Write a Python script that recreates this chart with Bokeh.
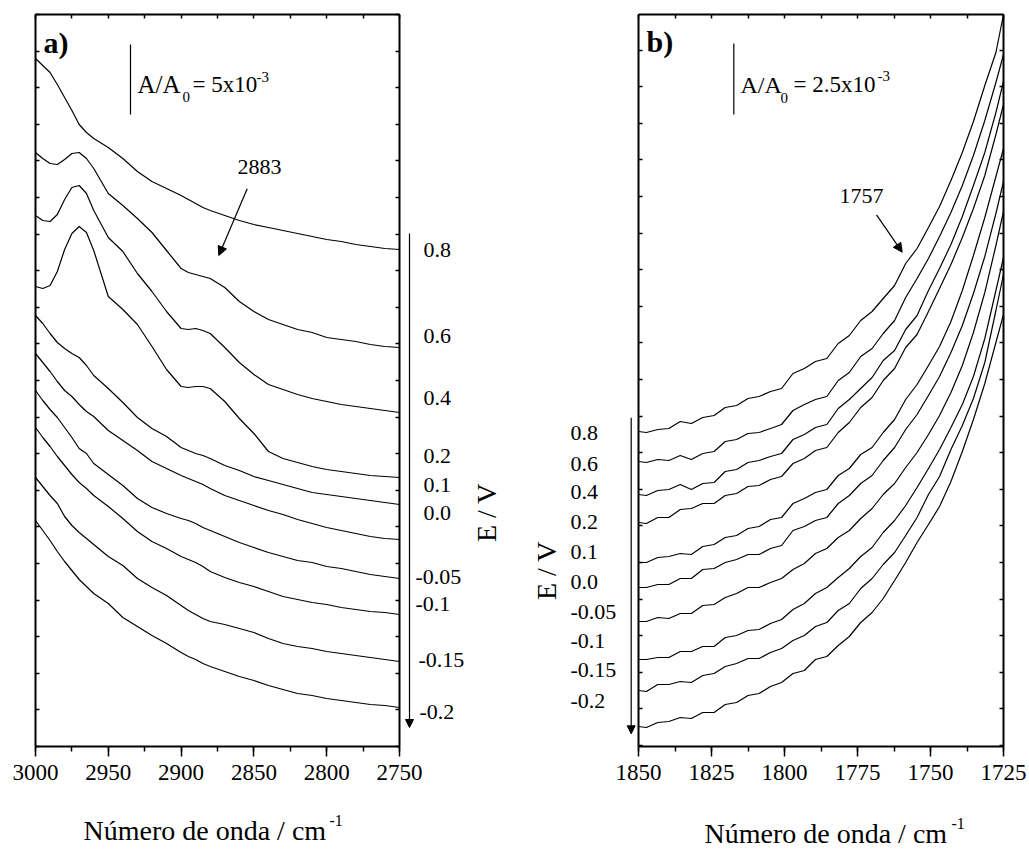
import math
from bokeh.plotting import figure
from bokeh.layouts import row
from bokeh.models import (Range1d, LinearAxis, SingleIntervalTicker, Label, Arrow,
                          NormalHead, CustomJSTickFormatter)
from bokeh.embed import file_html
from bokeh.resources import INLINE

FONT = "Liberation Serif"

# ---------------- data ----------------
POTENTIALS = ["0.8", "0.6", "0.4", "0.2", "0.1", "0.0", "-0.05", "-0.1", "-0.15", "-0.2"]

# panel a: wavenumbers (cm-1) and offset absorbance traces (arbitrary offset units)
WN_A = [3000, 2995, 2990, 2985, 2980, 2975, 2970, 2965, 2960, 2950, 2940, 2930, 2920,
        2910, 2900, 2895, 2890, 2885, 2880, 2870, 2860, 2850, 2840, 2830, 2820, 2810,
        2800, 2790, 2780, 2770, 2760, 2750]
A_P08 = [688, 681, 674, 662, 649, 636, 622, 614, 608, 599, 588, 575, 565, 558, 551, 547,
         543, 539, 536, 531, 526, 522, 519, 516, 513, 510, 507, 505, 502, 500, 498, 497]
A_P06 = [594, 588, 583, 582, 587, 593, 594, 588, 578, 553, 541, 528, 514, 496, 478, 474,
         472, 470, 468, 459, 445, 435, 427, 422, 417, 414, 409, 407, 405, 402, 400, 399]
A_P04 = [531, 526, 525, 532, 547, 559, 561, 553, 536, 509, 495, 473, 455, 435, 418, 417,
         418, 416, 413, 399, 384, 372, 362, 357, 352, 348, 345, 342, 340, 338, 336, 334]
A_P02 = [460, 458, 461, 475, 497, 513, 520, 514, 496, 450, 437, 422, 400, 377, 360, 359,
         360, 360, 358, 345, 328, 313, 295, 288, 284, 280, 277, 275, 273, 271, 270, 269]
A_P01 = [431, 423, 413, 404, 398, 393, 389, 381, 371, 358, 344, 329, 318, 310, 299, 296,
         293, 291, 288, 281, 276, 270, 266, 262, 258, 254, 252, 250, 248, 246, 244, 242]
A_P00 = [393, 384, 375, 365, 356, 350, 342, 335, 330, 316, 306, 296, 285, 278, 271, 268,
         265, 262, 258, 251, 246, 241, 236, 232, 227, 223, 219, 216, 213, 210, 208, 207]
A_M005 = [356, 346, 337, 329, 319, 309, 298, 293, 283, 272, 261, 248, 239, 233, 228, 226,
          223, 219, 216, 210, 204, 199, 194, 190, 186, 184, 180, 178, 175, 172, 170, 168]
A_M01 = [319, 309, 300, 290, 281, 272, 264, 258, 251, 240, 228, 215, 205, 198, 190, 187,
         184, 180, 175, 169, 164, 160, 155, 150, 147, 144, 142, 139, 137, 135, 134, 132]
A_M015 = [269, 260, 251, 243, 230, 221, 214, 208, 202, 190, 181, 168, 159, 151, 141, 136,
          132, 128, 125, 122, 118, 114, 108, 103, 100, 98, 95, 93, 91, 89, 87, 85]
A_M02 = [226, 216, 206, 195, 185, 176, 167, 160, 153, 143, 129, 120, 111, 103, 94, 90,
         87, 83, 80, 75, 70, 66, 61, 57, 53, 51, 48, 46, 44, 42, 41, 39]
TRACES_A = [A_P08, A_P06, A_P04, A_P02, A_P01, A_P00, A_M005, A_M01, A_M015, A_M02]

# panel b
WN_B = [1850.0, 1847.3, 1843.4, 1839.6, 1835.7, 1831.9, 1828.0, 1824.1, 1820.3, 1816.4,
        1812.5, 1808.7, 1804.8, 1801.0, 1797.1, 1793.2, 1789.4, 1785.5, 1781.6, 1777.8,
        1773.9, 1770.0, 1766.2, 1762.3, 1758.5, 1754.6, 1750.7, 1746.9, 1743.0, 1739.1,
        1735.3, 1731.4, 1727.6, 1725.0]
B_P08 = [314, 313, 316, 317, 324, 322, 328, 330, 338, 340, 347, 349, 354, 357, 372, 377,
         384, 387, 402, 410, 425, 434, 447, 460, 482, 497, 518, 539, 565, 593, 624, 660, 693, 731]
B_P06 = [284, 283, 286, 285, 290, 286, 292, 294, 304, 306, 312, 313, 317, 321, 335, 341,
         346, 349, 365, 373, 389, 397, 412, 425, 448, 467, 487, 509, 533, 560, 590, 625, 663, 691]
B_P04 = [251, 250, 255, 256, 261, 256, 262, 263, 274, 276, 283, 285, 289, 292, 306, 311,
         318, 321, 337, 346, 357, 368, 385, 395, 416, 430, 455, 477, 501, 529, 560, 593, 633, 664]
B_P02 = [223, 222, 228, 228, 236, 237, 242, 242, 250, 252, 259, 260, 266, 269, 282, 287,
         295, 298, 313, 323, 338, 348, 365, 377, 398, 411, 434, 457, 481, 508, 537, 570, 611, 641]
B_P01 = [183, 183, 188, 189, 192, 191, 199, 201, 208, 210, 217, 219, 226, 228, 242, 247,
         253, 256, 270, 277, 291, 298, 313, 326, 346, 361, 380, 399, 424, 455, 490, 528, 569, 597]
B_P00 = [158, 158, 161, 161, 167, 167, 176, 177, 183, 186, 191, 191, 197, 200, 215, 219,
         225, 228, 242, 250, 262, 270, 285, 298, 316, 331, 350, 369, 393, 420, 452, 489, 532, 564]
B_M005 = [124, 124, 128, 127, 132, 132, 140, 141, 148, 152, 158, 158, 163, 167, 176, 182,
          192, 197, 208, 215, 227, 237, 251, 262, 278, 293, 311, 330, 353, 380, 413, 453, 500, 534]
B_M01 = [86, 86, 88, 88, 94, 94, 99, 99, 108, 110, 115, 116, 122, 126, 136, 142,
         152, 158, 168, 177, 189, 198, 213, 225, 240, 258, 277, 296, 318, 341, 369, 407, 455, 488]
B_M015 = [55, 54, 61, 61, 64, 63, 70, 72, 79, 82, 87, 87, 93, 97, 105, 110,
          119, 123, 135, 142, 157, 167, 181, 193, 210, 228, 251, 269, 296, 320, 347, 383, 435, 471]
B_M02 = [19, 18, 23, 24, 28, 27, 33, 33, 41, 43, 50, 52, 59, 63, 72, 75,
         86, 89, 100, 109, 123, 133, 147, 165, 183, 203, 221, 239, 264, 294, 326, 362, 403, 431]
TRACES_B = [B_P08, B_P06, B_P04, B_P02, B_P01, B_P00, B_M005, B_M01, B_M015, B_M02]

SCALE_A_UNITS = 70   # 5x10^-3 in panel-a offset units
SCALE_B_UNITS = 71   # 2.5x10^-3 in panel-b offset units
BAND_A = "2883"
BAND_B = "1757"

# ---------------- layout (screen px of the 1029x850 page) ----------------
FW_A, FW_B = 364, 365          # plot box widths
A_LEFT, B_LEFT = 35, 638       # plot box left edges
PA_W, PB_W, H = 520, 509, 850  # figure sizes
A_PPU = FW_A / 250.0
B_PPU = FW_B / 125.0


def ax(px):
    return 3000 - (px - A_LEFT) / A_PPU


def ay(py):
    return 746 - py


def bx(px):
    return 1850 - (px - B_LEFT) / B_PPU


def by(py):
    return 745 - py


def add_box_axes(p, x0, x1, y0, y1, interval, yint):
    blank = CustomJSTickFormatter(code="return ''")
    common = dict(axis_line_width=2, axis_line_color="black",
                  major_tick_line_width=1.5, minor_tick_line_width=1.5,
                  major_tick_line_color="black", minor_tick_line_color="black")
    xb = LinearAxis(ticker=SingleIntervalTicker(interval=interval, num_minor_ticks=2),
                    fixed_location=y0, bounds=(min(x0, x1), max(x0, x1)),
                    major_tick_out=10, major_tick_in=0, minor_tick_out=5, minor_tick_in=0,
                    major_label_text_font=FONT, major_label_text_font_size="23px",
                    major_label_text_font_style="normal",
                    major_label_text_color="black", major_label_standoff=8, **common)
    p.add_layout(xb, "below")
    xt = LinearAxis(ticker=SingleIntervalTicker(interval=interval / 2.0, num_minor_ticks=0),
                    fixed_location=y1, bounds=(min(x0, x1), max(x0, x1)),
                    formatter=blank, major_tick_out=0, major_tick_in=4,
                    minor_tick_out=0, minor_tick_in=0, major_label_standoff=0,
                    major_label_text_font_size="1px", **common)
    p.add_layout(xt, "above")
    for side, loc in (("left", x0), ("right", x1)):
        ya = LinearAxis(ticker=SingleIntervalTicker(interval=yint, num_minor_ticks=0),
                        fixed_location=loc, bounds=(y0, y1),
                        formatter=blank, major_tick_out=0, major_tick_in=4,
                        minor_tick_out=0, minor_tick_in=0, major_label_standoff=0,
                        major_label_text_font_size="1px", **common)
        p.add_layout(ya, side)
    p.outline_line_color = None
    p.background_fill_color = "white"
    p.border_fill_color = "white"


def lab(p, x, y, text, size="22px", align="left", style="normal", angle=0.0):
    p.add_layout(Label(x=x, y=y, text=text, text_font=FONT, text_font_size=size,
                       text_align=align, text_baseline="middle", text_color="black",
                       text_font_style=style, angle=angle))


def arrow(p, x0, y0, x1, y1, size=9):
    p.add_layout(Arrow(end=NormalHead(size=size, fill_color="black", line_color="black"),
                       x_start=x0, y_start=y0, x_end=x1, y_end=y1,
                       line_color="black", line_width=1.2))


# ---------------- panel a ----------------
pa = figure(frame_width=PA_W, frame_height=H,
            x_range=Range1d(ax(0), ax(PA_W)), y_range=Range1d(ay(H), ay(0)),
            x_axis_type=None, y_axis_type=None,
            output_backend="svg", toolbar_location=None,
            min_border=0, min_border_left=0, min_border_right=0,
            min_border_top=0, min_border_bottom=0)
add_box_axes(pa, 3000, 2750, 0, 732, 50, 36.6)
for tr in TRACES_A:
    pa.line(x=WN_A, y=tr, line_color="black", line_width=1.2)

lab(pa, ax(43), ay(42), "a)", size="30px", style="bold")
bar_top_a = ay(44)
pa.segment(x0=[ax(130)], y0=[bar_top_a], x1=[ax(130)], y1=[bar_top_a - SCALE_A_UNITS],
           line_color="black", line_width=1.2)
lab(pa, ax(137), ay(84), "A/A", size="25px")
lab(pa, ax(182), ay(96), "0", size="15px")
lab(pa, ax(192), ay(84), "= 5x10", size="23px")
lab(pa, ax(256), ay(76), "-3", size="15px")
lab(pa, ax(237), ay(166), BAND_A)
arrow(pa, ax(246.7), ay(188.3), ax(218.3), ay(255))

E_A_X = [423, 423, 423, 423, 423, 423, 415, 415, 418, 419]
E_A_Y = [249, 335, 397, 455, 484, 512, 576, 603, 659, 711]
for t, px, py in zip(POTENTIALS, E_A_X, E_A_Y):
    lab(pa, ax(px), ay(py), t)
arrow(pa, ax(409), ay(233), ax(409), ay(727), size=8)
lab(pa, ax(486), ay(512), "E / V", size="28px", align="center", angle=math.pi / 2)
lab(pa, ax(83), ay(830), "Número de onda / cm", size="28px")
lab(pa, ax(329), ay(820), "-1", size="16px")

# ---------------- panel b ----------------
pb = figure(frame_width=PB_W, frame_height=H,
            x_range=Range1d(bx(520), bx(520 + PB_W)), y_range=Range1d(by(H), by(0)),
            x_axis_type=None, y_axis_type=None,
            output_backend="svg", toolbar_location=None,
            min_border=0, min_border_left=0, min_border_right=0,
            min_border_top=0, min_border_bottom=0)
add_box_axes(pb, 1850, 1725, -1, 731, 25, 36.6)
for tr in TRACES_B:
    pb.line(x=WN_B, y=tr, line_color="black", line_width=1.2)

lab(pb, bx(646), by(41), "b)", size="30px", style="bold")
bar_top_b = by(43)
pb.segment(x0=[bx(733.3)], y0=[bar_top_b], x1=[bx(733.3)], y1=[bar_top_b - SCALE_B_UNITS],
           line_color="black", line_width=1.2)
lab(pb, bx(740), by(84), "A/A", size="24px")
lab(pb, bx(780), by(97), "0", size="15px")
lab(pb, bx(793), by(84), "= 2.5x10", size="23px")
lab(pb, bx(877), by(75), "-3", size="15px")
lab(pb, bx(839), by(195), BAND_B)
arrow(pb, bx(876), by(214.3), bx(901.7), by(251.7))

E_B_Y = [432.7, 463.3, 491.7, 521.7, 551.7, 581, 611.7, 640, 669.3, 700.7]
for t, py in zip(POTENTIALS, E_B_Y):
    lab(pb, bx(570), by(py), t)
arrow(pb, bx(630.7), by(417.3), bx(630.7), by(733.3), size=8)
lab(pb, bx(546), by(570), "E / V", size="28px", align="center", angle=math.pi / 2)
lab(pb, bx(704), by(833), "Número de onda / cm", size="28px")
lab(pb, bx(951), by(823), "-1", size="16px")

layout = row(pa, pb)
open("out.html", "w").write(file_html(layout, INLINE))
